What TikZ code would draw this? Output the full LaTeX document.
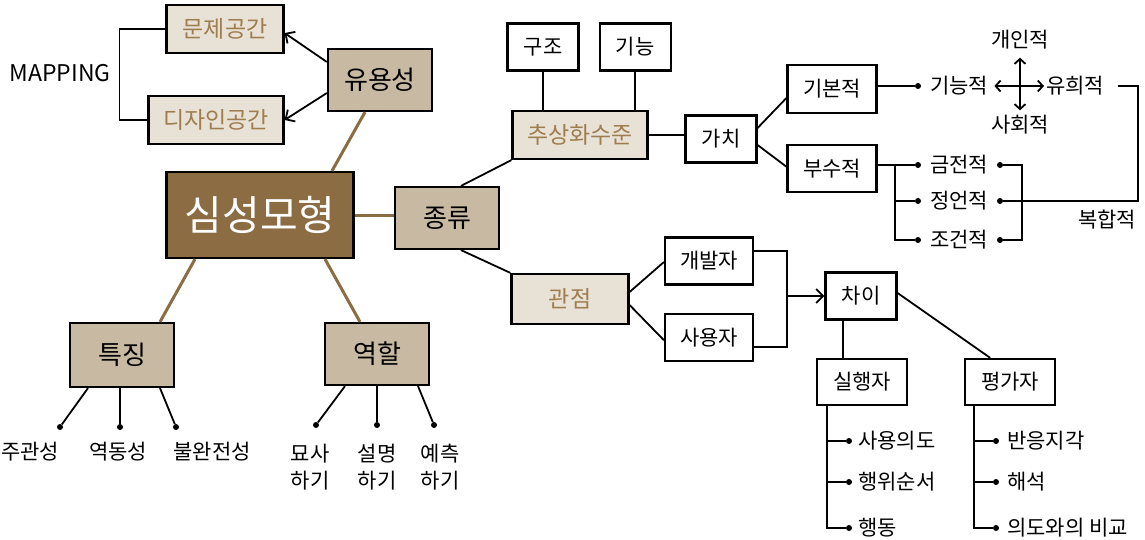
\documentclass[tikz,border=0pt]{standalone}
\usepackage{fontspec}
\setmainfont{Noto Sans CJK KR}
\usetikzlibrary{arrows.meta, positioning}

\definecolor{darkbrown}{HTML}{8B6C43}
\definecolor{tanfill}{HTML}{C8B9A2}
\definecolor{palefill}{HTML}{E8E1D6}
\definecolor{browntext}{HTML}{9E7D4F}

\begin{document}
\begin{tikzpicture}[
        x=1pt, y=-1pt,
        every node/.style={inner sep=0pt, align=center},
        box/.style={draw, line width=2.2pt, fill=white, minimum width=71pt, minimum height=47pt, font=\fontsize{21}{25}\selectfont},
        hub/.style={box, fill=tanfill, minimum width=104pt, minimum height=62pt, font=\fontsize{26}{30}\selectfont},
        topic/.style={box, fill=palefill, text=browntext, minimum height=48pt, font=\fontsize{23}{27}\selectfont},
        item/.style={font=\fontsize{21}{27}\selectfont},
        bullet/.style={circle, fill, minimum size=6pt},
        link/.style={line width=1.8pt},
        stem/.style={draw=darkbrown, line width=3pt},
        arrow/.style={-{Straight Barb[length=7pt, width=14pt]}, line width=1.8pt},
        dblarrow/.style={{Straight Barb[length=5pt, width=11pt]}-{Straight Barb[length=5pt, width=11pt]}, line width=1.8pt}
        ]
        \useasboundingbox (0,0) rectangle (1145,540);

        % Centre and the first ring

        % Nodes
        \node[hub, fill=darkbrown, text=white, minimum width=187pt, minimum height=86pt, font=\fontsize{41}{45}\selectfont] (mental) at (260,215) {심성모형};
        \node[hub] (use) at (380,80) {유용성};
        \node[hub] (kind) at (447,218) {종류};
        \node[hub, minimum height=64pt] (feature) at (122,355) {특징};
        \node[hub] (role) at (377,354) {역할};
        \node[topic, minimum width=117pt] (prob) at (225,29) {문제공간};
        \node[topic, minimum width=135pt] (design) at (216,120) {디자인공간};
        \node[item, font=\fontsize{23}{26}\selectfont] (mapping) at (60,73) {MAPPING};

        % Connect the centre
        \draw[stem] ([xshift=72pt]mental.north) -- ([xshift=-15pt]use.south);
        \draw[stem] (mental.east) -- (mental.east -| kind.west);
        \draw[stem] ([xshift=-65pt]mental.south) -- ([xshift=38pt]feature.north);
        \draw[stem] ([xshift=65pt]mental.south) -- ([xshift=-17pt]role.north);
        \draw[arrow] ([yshift=18pt]use.west) -- ([yshift=-4pt]prob.east);
        \draw[arrow] ([yshift=-13pt]use.west) -- (design.east);
        \draw[link] (prob.west) -- ++(-46,0) |- (design.west);

        % Kinds: level of abstraction
        \node[topic, minimum width=135pt] (abstr) at (580,135) {추상화수준};
        \node[box] (struct) at (543,47) {구조};
        \node[box, right=19pt of struct] (func) {기능};
        \node[box] (value) at (721,139) {가치};
        \node[box, minimum width=89pt, minimum height=48pt] (basic) at (832,89) {기본적};
        \node[box, minimum width=89pt, below=30pt of basic] (extra) {부수적};
        \draw[link] ([xshift=14pt]kind.north) -- (abstr.south west);
        \draw[link] (struct.south) -- (struct.south |- abstr.north);
        \draw[link] (func.south) -- (func.south |- abstr.north);
        \draw[link] (abstr.east) -- (abstr.east -| value.west);
        \draw[link] ([yshift=11pt]value.east) -- ([yshift=-9pt]basic.west);
        \draw[link] ([yshift=-6pt]value.east) -- ([yshift=2pt]extra.west);

        % Basic values
        \node[bullet] (bd) at (918,86) {};
        \node[item, anchor=west] (functxt) at (930,86) {기능적};
        \node[item, anchor=west] (play) at (1046,86) {유희적};
        \node[item] (personal) at (1020,40) {개인적};
        \node[item] (social) at (1020,125) {사회적};
        \draw[link] (bd -| basic.east) -- (bd);
        \draw[dblarrow, shorten <=6pt, shorten >=2pt] (functxt.east) -- (play.west);
        \draw[dblarrow, shorten <=8pt, shorten >=5pt] (personal.south) -- (social.north);

        % Extra values
        \foreach \i/\y/\txt in {1/165/금전적, 2/201/정언적, 3/240/조건적} {
                \node[bullet] (ld-\i) at (918,\y) {};
                \node[item, anchor=west] (ex-\i) at (930,\y) {\txt};
                \node[bullet] (rd-\i) at (1000,\y) {};
            }
        \draw[link] (ld-1 -| extra.east) -- (ld-1);
        \draw[link] ([xshift=-23pt]ld-1.center) |- (ld-2);
        \draw[link] ([xshift=-23pt]ld-1.center) |- (ld-3);
        \draw[link] (rd-1) -- ++(22,0) |- (rd-3);
        \coordinate (combo) at (1138,201);
        \draw[link] (rd-2) -- (combo) |- ([xshift=14pt]play.east);
        \node[item] (mixed) at (1107,220) {복합적};

        % Kinds: point of view
        \node[topic, minimum width=117pt, minimum height=50pt] (view) at (570,299) {관점};
        \node[box, minimum width=88pt] (dev) at (709,261) {개발자};
        \node[box, minimum width=88pt, below=27pt of dev] (user) {사용자};
        \node[box] (diff) at (861,296) {차이};
        \node[box, minimum width=90pt, minimum height=46pt] (exec) at (862,382) {실행자};
        \node[box, minimum width=90pt, minimum height=46pt, right=56pt of exec] (eval) {평가자};
        \coordinate (merge) at (787,296);
        \draw[link] ([xshift=14pt]kind.south) -- (view.north west);
        \draw[link] ([yshift=7pt]view.east) -- ([yshift=-1pt]dev.west);
        \draw[link] ([yshift=-6pt]view.east) -- ([yshift=-3pt]user.west);
        \draw[link] ([yshift=10pt]dev.east) -| (merge) |- ([yshift=-10pt]user.east);
        \draw[arrow] (merge) -- (diff.west);
        \draw[link] ([xshift=-18pt]diff.south) -- ([xshift=-18pt]diff.south |- exec.north);
        \draw[link] ([yshift=3pt]diff.east) -- ([xshift=-20pt]eval.north);

        % Lists under the two sides
        \foreach \i/\y/\a/\b in {1/441/사용의도/반응지각, 2/482/행위순서/해석, 3/528/행동/의도와의 비교} {
                \node[bullet] (xd-\i) at (849,\y) {};
                \node[item, anchor=west] (xt-\i) at (858,\y) {\a};
                \node[bullet] (vd-\i) at (996,\y) {};
                \node[item, anchor=west] (vt-\i) at (1007,\y) {\b};
            }
        \foreach \i in {1,...,3}
            { \draw[link] ([xshift=11pt]exec.south west) |- (xd-\i);
                \draw[link] ([xshift=10pt]eval.south west) |- (vd-\i);}

        % Features and roles
        \foreach \dx/\x/\tx/\txt [count=\i] in {-34/60/30/주관성, -2/120/118/역동성, 38/176/212/불완전성} {
                \node[bullet] (fd-\i) at (\x,427) {};
                \node[item] (ft-\i) at (\tx,452) {\txt};
                \draw[link] ([xshift=\dx pt]feature.south) -- (fd-\i);
            }
        \foreach \dx/\x/\tx/\txt [count=\i] in {-32/316/310/묘사, 0/377/377/설명, 41/434/440/예측} {
                \node[bullet] (rd-\i) at (\x,425) {};
                \node[item] (rt-\i) at (\tx,467) {\txt\\하기};
                \draw[link] ([xshift=\dx pt]role.south) -- (rd-\i);
            }
    \end{tikzpicture}
\end{document}
